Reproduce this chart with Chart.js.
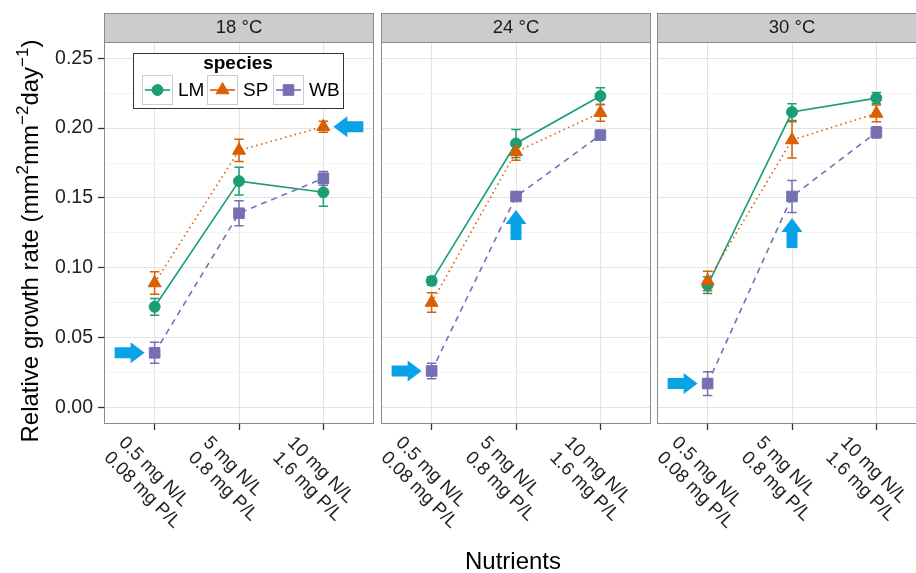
<!DOCTYPE html>
<html>
<head>
<meta charset="utf-8">
<script src="https://cdn.jsdelivr.net/npm/chart.js@4.4.1/dist/chart.umd.min.js"></script>
<style>
  html, body { margin: 0; padding: 0; background: #fff; }
  #wrap { position: relative; width: 916px; height: 573px; overflow: hidden; background: #fff; }
  #wrap canvas { position: absolute; left: 0; top: 0; }
</style>
</head>
<body>
<div id="wrap">
  <canvas id="panel0" width="916" height="573"></canvas>
  <canvas id="panel1" width="916" height="573"></canvas>
  <canvas id="panel2" width="940" height="573"></canvas>
</div>
<script>
// facets and x categories
const temperatures = ['18 \u00b0C', '24 \u00b0C', '30 \u00b0C'];
const nutrientN = ['0.5 mg N/L', '5 mg N/L', '10 mg N/L'];
const nutrientP = ['0.08 mg P/L', '0.8 mg P/L', '1.6 mg P/L'];
const species = ['LM', 'SP', 'WB'];

// mean relative growth rate, one row per temperature
const lmMean = [[0.072, 0.162, 0.154], [0.0905, 0.189, 0.223], [0.0875, 0.2115, 0.2215]];
const spMean = [[0.089, 0.184, 0.201], [0.075, 0.183, 0.211], [0.0905, 0.1915, 0.2105]];
const wbMean = [[0.039, 0.139, 0.164], [0.026, 0.151, 0.195], [0.017, 0.151, 0.197]];

// standard errors (same layout)
const lmSe = [[0.006, 0.010, 0.010], [0.003, 0.010, 0.006], [0.006, 0.006, 0.004]];
const spSe = [[0.008, 0.008, 0.004], [0.007, 0.006, 0.006], [0.007, 0.013, 0.006]];
const wbSe = [[0.0075, 0.009, 0.005], [0.0055, 0.003, 0.003], [0.0085, 0.0115, 0.004]];

// blue arrows: panel, nutrient level, y value, direction
const arrowPanel = [0, 0, 1, 1, 2, 2];
const arrowLevel = [0, 2, 0, 1, 0, 1];
const arrowValue = [0.039, 0.201, 0.026, 0.1413, 0.017, 0.1356];
const arrowDir = ['right', 'left', 'right', 'up', 'right', 'up'];

const yTicks = [0, 0.05, 0.10, 0.15, 0.20, 0.25];

const FONT = "'Liberation Sans', Arial, Helvetica, sans-serif";
Chart.defaults.font.family = FONT;

const colors = ['#1b9e77', '#d95f02', '#7570b3'];
const markers = ['circle', 'triangle', 'rect'];
const markerSize = [5.5, 7.5, 7.5];
const dashes = [[], [1.5, 3.5], [6, 5]];
const means = [lmMean, spMean, wbMean];
const errs = [lmSe, spSe, wbSe];

const PANEL_LEFT = [104, 381, 657];
const PANEL_W = 270, PANEL_TOP = 42, PANEL_BOTTOM = 424;
const ARROW_BLUE = '#0aa2e6';

function isMajor(v) {
  return yTicks.some(t => Math.abs(t - v) < 1e-6);
}

function drawArrow(ctx, tx, ty, dir) {
  // tip at (tx, ty); length 30, head 14, widths 21 / 11
  const len = 30, head = 14, hw = 10.5, sw = 5.5;
  const pts = [[0, 0], [-head, -hw], [-head, -sw], [-len, -sw], [-len, sw], [-head, sw], [-head, hw]];
  const rot = { right: 0, left: Math.PI, up: -Math.PI / 2 }[dir];
  ctx.save();
  ctx.translate(tx, ty);
  ctx.rotate(rot);
  ctx.beginPath();
  pts.forEach((p, i) => i ? ctx.lineTo(p[0], p[1]) : ctx.moveTo(p[0], p[1]));
  ctx.closePath();
  ctx.fillStyle = ARROW_BLUE;
  ctx.fill();
  ctx.restore();
}

const facetPlugin = {
  id: 'facet',
  beforeDatasetsDraw(chart, args, opts) {
    // error bars under the points
    const ctx = chart.ctx, xs = chart.scales.x, ys = chart.scales.y;
    ctx.save();
    chart.data.datasets.forEach(ds => {
      ctx.strokeStyle = ds.borderColor;
      ctx.lineWidth = 1.5;
      ds.data.forEach((pt, i) => {
        const x = xs.getPixelForValue(pt.x);
        const hi = ys.getPixelForValue(pt.y + ds.errors[i]);
        const lo = ys.getPixelForValue(pt.y - ds.errors[i]);
        ctx.beginPath();
        ctx.moveTo(x, hi); ctx.lineTo(x, lo);
        ctx.moveTo(x - 4.7, hi); ctx.lineTo(x + 4.7, hi);
        ctx.moveTo(x - 4.7, lo); ctx.lineTo(x + 4.7, lo);
        ctx.stroke();
      });
    });
    ctx.restore();
  },
  afterDatasetsDraw(chart, args, opts) {
    const ctx = chart.ctx, xs = chart.scales.x, ys = chart.scales.y;
    arrowPanel.forEach((p, i) => {
      if (p !== opts.panel) return;
      let x = xs.getPixelForValue(arrowLevel[i]);
      const y = ys.getPixelForValue(arrowValue[i]);
      if (arrowDir[i] === 'right') x -= 10;
      if (arrowDir[i] === 'left') x += 10;
      drawArrow(ctx, x, y, arrowDir[i]);
    });
  },
  afterDraw(chart, args, opts) {
    const ctx = chart.ctx, area = chart.chartArea, xs = chart.scales.x;
    ctx.save();
    // panel border
    ctx.strokeStyle = '#8a8a8a';
    ctx.lineWidth = 1;
    ctx.strokeRect(area.left + 0.5, area.top + 0.5, area.right - area.left - 1, area.bottom - area.top - 1);
    // strip
    ctx.fillStyle = '#cccccc';
    ctx.fillRect(area.left, 13, area.right - area.left, area.top - 13);
    ctx.strokeRect(area.left + 0.5, 13.5, area.right - area.left - 1, area.top - 13);
    ctx.fillStyle = '#1a1a1a';
    ctx.font = '18.5px ' + FONT;
    ctx.textAlign = 'center';
    ctx.textBaseline = 'middle';
    ctx.fillText(temperatures[opts.panel], (area.left + area.right) / 2, 28);

    // rotated two-line nutrient labels
    ctx.fillStyle = '#222';
    ctx.textAlign = 'left';
    nutrientN.forEach((n, i) => {
      const x = xs.getPixelForValue(i);
      ctx.save();
      ctx.translate(x - 33, 440);
      ctx.rotate(Math.PI / 4);
      ctx.fillText(n, 0, 0);
      ctx.fillText(nutrientP[i], 0, 21);
      ctx.restore();
    });

    if (opts.panel === 0) {
      // legend box
      ctx.fillStyle = '#fff';
      ctx.fillRect(133, 53, 210, 55);
      ctx.strokeStyle = '#333';
      ctx.strokeRect(133.5, 53.5, 210, 55);
      ctx.fillStyle = '#000';
      ctx.font = 'bold 19px ' + FONT;
      ctx.textAlign = 'center';
      ctx.fillText('species', 238, 64);
      const keyX = [142, 207, 273];
      chart.data.datasets.forEach((ds, k) => {
        const kx = keyX[k], ky = 75;
        ctx.strokeStyle = '#cccccc';
        ctx.lineWidth = 1;
        ctx.strokeRect(kx + 0.5, ky + 0.5, 30, 29);
        const cx = kx + 15.5, cy = ky + 15;
        ctx.strokeStyle = ds.borderColor;
        ctx.fillStyle = ds.borderColor;
        ctx.lineWidth = 1.6;
        ctx.beginPath();
        ctx.moveTo(kx + 3, cy); ctx.lineTo(kx + 28, cy);
        ctx.stroke();
        ctx.lineWidth = 1;
        Chart.helpers.drawPoint(ctx, { pointStyle: ds.pointStyle, radius: ds.pointRadius, borderWidth: 1, rotation: 0 }, cx, cy);
        ctx.fillStyle = '#000';
        ctx.font = '19px ' + FONT;
        ctx.textAlign = 'left';
        ctx.fillText(ds.label, kx + 36, cy + 1);
      });

      // x title
      ctx.fillStyle = '#000';
      ctx.font = '24px ' + FONT;
      ctx.textAlign = 'center';
      ctx.textBaseline = 'alphabetic';
      ctx.fillText('Nutrients', 513, 569);

      // y title with superscripts
      const parts = [['Relative growth rate (mm', 0], ['2', 1], ['mm', 0], ['\u22122', 1], ['day', 0], ['\u22121', 1], [')', 0]];
      const fontOf = s => (s ? '17px ' : '24px ') + FONT;
      let total = 0;
      parts.forEach(p => { ctx.font = fontOf(p[1]); total += ctx.measureText(p[0]).width; });
      ctx.save();
      ctx.translate(38, 241);
      ctx.rotate(-Math.PI / 2);
      ctx.textAlign = 'left';
      let cx = -total / 2;
      parts.forEach(p => {
        ctx.font = fontOf(p[1]);
        ctx.fillText(p[0], cx, p[1] ? -10 : 0);
        cx += ctx.measureText(p[0]).width;
      });
      ctx.restore();
    }
    ctx.restore();
  }
};

function makePanel(p) {
  const canvas = document.getElementById('panel' + p);
  const left = PANEL_LEFT[p];
  const datasets = species.map((s, k) => ({
    label: s,
    data: means[k][p].map((v, i) => ({ x: i, y: v })),
    errors: errs[k][p],
    borderColor: colors[k],
    backgroundColor: colors[k],
    pointBackgroundColor: colors[k],
    pointBorderColor: colors[k],
    pointStyle: markers[k],
    pointRadius: markerSize[k],
    pointHoverRadius: markerSize[k],
    pointBorderWidth: 1,
    borderWidth: 1.6,
    borderDash: dashes[k],
    tension: 0,
    fill: false,
    order: 3 - k
  }));

  new Chart(canvas.getContext('2d'), {
    type: 'line',
    data: { datasets },
    options: {
      responsive: false,
      animation: false,
      events: [],
      layout: {
        padding: {
          left: p === 0 ? 0 : left,
          right: canvas.width - (left + PANEL_W),
          top: PANEL_TOP,
          bottom: canvas.height - PANEL_BOTTOM - 6
        }
      },
      plugins: {
        legend: { display: false },
        tooltip: { enabled: false },
        facet: { panel: p }
      },
      scales: {
        x: {
          type: 'linear',
          min: -0.6,
          max: 2.6,
          afterFit: s => { s.height = 6; },
          border: { display: false },
          grid: { color: '#e4e4e4', lineWidth: 1, drawTicks: true, tickLength: 6, tickColor: '#333', tickWidth: 1.3 },
          ticks: { display: false, stepSize: 1, includeBounds: false, autoSkip: false }
        },
        y: {
          min: -0.012,
          max: 0.2617,
          afterFit: s => { s.width = p === 0 ? 104 : 0; },
          border: { display: false },
          grid: {
            color: c => (c.tick && isMajor(c.tick.value)) ? '#e4e4e4' : '#f4f4f4',
            lineWidth: 1,
            drawTicks: p === 0,
            tickLength: 6,
            tickWidth: 1.3,
            tickColor: c => (c.tick && isMajor(c.tick.value)) ? '#333' : 'rgba(0,0,0,0)'
          },
          ticks: {
            display: p === 0,
            stepSize: 0.025,
            includeBounds: false,
            autoSkip: false,
            maxTicksLimit: 20,
            padding: 5,
            color: '#222',
            font: { size: 19.5 },
            callback: v => isMajor(v) ? v.toFixed(2) : ''
          }
        }
      }
    },
    plugins: [facetPlugin]
  });
}

[0, 1, 2].forEach(makePanel);
</script>
</body>
</html>
